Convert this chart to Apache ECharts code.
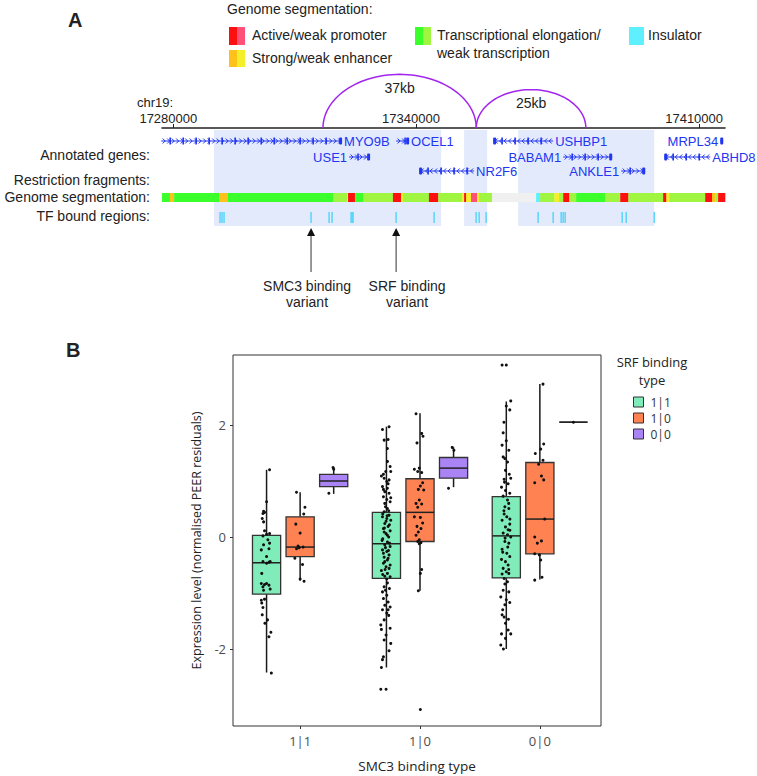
<!DOCTYPE html>
<html><head><meta charset="utf-8">
<script src="https://cdn.jsdelivr.net/npm/echarts@6/dist/echarts.min.js"></script>
<style>html,body{margin:0;padding:0;background:#fff}#c{width:757px;height:776px}</style>
</head><body><div id="c"></div>
<script>
// ================= PANEL A DATA =================
const coordTicks = [17280000, 17340000, 17410000];
const chromName = 'chr19:';
const geneNames  = ['MYO9B','OCEL1','USHBP1','MRPL34','USE1','BABAM1','ABHD8','NR2F6','ANKLE1'];
const geneStarts = [17277000,17335080,17359070,17415200,17323450,17376390,17401370,17340770,17390730];
const geneEnds   = [17321720,17338300,17373910,17415960,17328650,17388510,17412750,17354370,17396670];
const geneStrand = [1,1,-1,1,1,1,-1,-1,1];
const geneRow    = [0,0,0,0,1,1,1,2,2];
const geneLabelSide = ['right','right','right','left','left','left','right','right','left'];
const fragStarts = [17290060, 17351900, 17365260];
const fragEnds   = [17346210, 17357590, 17398900];
const segStarts = [17277200,17279200,17280200,17291300,17293500,17319500,17323000,17323200,17324900,17326900,17334300,17336300,17336800,17343200,17345500,17351400,17351900,17352400,17353600,17355100,17355600,17358800,17369700,17370700,17374200,17375400,17376400,17377900,17379600,17386800,17390500,17392500,17401100,17401900,17402600,17411500,17413200,17414000,17414700];
const segEnds   = [17279200,17280200,17291300,17293500,17319500,17323000,17323200,17324900,17326900,17334300,17336300,17336800,17343200,17345500,17351400,17351900,17352400,17353600,17355100,17355600,17358800,17369700,17370700,17374200,17375400,17376400,17377900,17379600,17386800,17390500,17392500,17401100,17401900,17402600,17411500,17413200,17414000,17414700,17416400];
const segStates = ['Tx','Enh','Tx','Enh','Tx','TxW','EnhW','Prom','Tx','TxW','Prom','EnhW','TxW','Prom','TxW','EnhW','Prom','EnhW','PromW','EnhW','TxW','None','Ins','TxW','EnhW','TxW','Prom','TxW','Tx','TxW','Prom','TxW','Prom','EnhW','TxW','Prom','Enh','TxW','Prom'];
const tfPositions = [17291550,17292040,17292540,17314050,17318510,17319250,17323950,17324200,17324440,17335080,17344480,17354870,17355610,17357340,17370200,17373910,17375890,17376390,17376880,17390980,17391970,17398900];
const loopStarts = [17317000, 17354900];
const loopEnds   = [17354900, 17382000];
const loopLabels = ['37kb', '25kb'];
const variantPos = [17314050, 17335080];
const variantLabels = ['SMC3 binding\nvariant', 'SRF binding\nvariant'];
const trackNames = ['Annotated genes:', 'Restriction fragments:', 'Genome segmentation:', 'TF bound regions:'];
const segLegendTitle = 'Genome segmentation:';
const segLegendLabels = ['Active/weak promoter', 'Strong/weak enhancer', 'Transcriptional elongation/\nweak transcription', 'Insulator'];

// ================= PANEL B DATA =================
const smc3Types = ['1|1', '1|0', '0|0'];
const srfTypes  = ['1|1', '1|0', '0|0'];
const legendTitleLines = ['SRF binding', 'type'];
// [min, Q1, median, Q3, max] per SMC3 type
const boxSrf11 = [[-2.42,-1.02,-0.46,0.03,1.20],[-2.33,-0.74,-0.12,0.44,1.97],[-2.00,-0.73,0.02,0.72,2.42]];
const boxSrf10 = [[-0.78,-0.35,-0.18,0.36,0.80],[-0.96,-0.08,0.44,1.04,2.21],[-0.76,-0.30,0.32,1.33,2.73]];
const boxSrf00 = [[0.77,0.90,1.00,1.12,1.24],[0.89,1.05,1.23,1.42,1.60],[2.05,2.05,2.05,2.05,2.05]];
// individual samples: [jitter, value] per SMC3 type
const ptsSrf11 = [
 [[0.025,1.20],[0,0.63],[-0.025,0.46],[-0.017,0.44],[-0.03,0.42],[-0.036,0.33],[-0.025,0.27],[-0.017,0.11],[0,0.05],[-0.03,0.02],[0.025,0.06],[0.011,-0.05],[0.025,-0.11],[-0.025,-0.14],[0.02,-0.21],[-0.044,-0.23],[0,-0.35],[-0.03,-0.44],[0.02,-0.45],[0.03,-0.44],[0,-0.47],[-0.04,-0.65],[-0.044,-0.83],[-0.017,-0.85],[0,-0.83],[-0.03,-0.89],[0.02,-0.86],[0.03,-0.93],[-0.025,-0.95],[-0.044,-1.13],[-0.017,-1.11],[-0.04,-1.18],[-0.03,-1.26],[-0.036,-1.39],[0.008,-1.48],[-0.014,-1.54],[0.036,-1.70],[0.02,-1.78],[0.04,-2.43]],
 [[-0.033,1.92],[0.022,1.97],[-0.019,1.73],[0.014,1.74],[0.008,1.58],[0.031,1.26],[-0.006,1.17],[0.036,1.17],[-0.042,1.09],[-0.019,1.05],[0.022,1.02],[0.003,0.99],[-0.033,0.90],[0.008,0.87],[-0.014,0.81],[0.022,0.78],[-0.025,0.72],[0.003,0.67],[0.031,0.63],[-0.008,0.54],[0.008,0.51],[-0.019,0.45],[0.022,0.39],[-0.033,0.36],[0.003,0.33],[0.036,0.30],[-0.014,0.24],[0.014,0.19],[-0.025,0.15],[0.031,0.11],[-0.003,0.06],[0.019,0.00],[-0.031,-0.03],[0.008,-0.09],[-0.014,-0.14],[0.031,-0.17],[-0.033,-0.23],[0.003,-0.26],[0.022,-0.32],[-0.019,-0.36],[0.008,-0.41],[-0.025,-0.47],[-0.003,-0.53],[0.022,-0.56],[-0.042,-0.60],[0.008,-0.65],[-0.014,-0.70],[0.031,-0.71],[0.008,-0.82],[-0.019,-0.89],[0.025,-0.92],[-0.033,-0.98],[0.003,-1.04],[-0.025,-1.10],[0.014,-1.16],[-0.014,-1.22],[0.031,-1.25],[-0.033,-1.30],[0.003,-1.36],[-0.047,-1.57],[-0.042,-1.65],[0.031,-1.63],[-0.019,-1.84],[0.036,-1.90],[0.022,-2.03],[-0.025,-2.14],[-0.033,-2.19],[-0.042,-2.33],[-0.047,-2.72],[-0.003,-2.72],
  [0.014,0.95],[-0.025,0.85],[0.036,0.70],[-0.014,0.60],[0.019,0.47],[-0.031,0.41],[-0.003,0.28],[0.025,0.22],[-0.019,0.09],[0.008,0.03],[-0.036,-0.06],[0.025,-0.11],[-0.008,-0.19],[-0.025,-0.29],[0.014,-0.38],[-0.014,-0.44],[0.031,-0.50],[-0.031,-0.67],[0.003,-0.75],[-0.008,-0.95],[0.019,-1.40],[-0.019,-1.48],[-0.003,-1.75],[0.014,-1.30],[-0.025,1.12],[0.008,1.35],[-0.011,-0.58],[0.006,0.38],[-0.017,0.16],[0.017,-0.24]],
 [[-0.035,3.07],[0,3.07],[0,2.34],[0.037,2.43],[0.029,2.27],[-0.026,1.86],[-0.035,1.64],[0.021,1.55],[-0.026,1.43],[-0.012,1.40],[0.01,1.34],[-0.007,1.19],[0.037,1.05],[-0.018,1.03],[0.015,0.95],[-0.04,0.89],[-0.007,0.83],[0.029,0.78],[-0.026,0.73],[0.01,0.66],[-0.012,0.54],[0.021,0.51],[-0.018,0.41],[0.004,0.36],[-0.035,0.30],[0.029,0.23],[-0.007,0.18],[0.015,0.13],[-0.026,0.07],[0.01,0.04],[0.037,0.00],[-0.012,-0.08],[0.021,-0.11],[-0.035,-0.22],[0.004,-0.29],[0.029,-0.35],[-0.04,-0.40],[-0.007,-0.44],[0.015,-0.50],[-0.026,-0.56],[0,-0.62],[0.021,-0.65],[-0.018,-0.74],[0.01,-0.80],[-0.012,-0.84],[-0.026,-0.95],[0.021,-0.98],[-0.046,-1.07],[0,-1.12],[-0.012,-1.21],[0.029,-1.17],[-0.035,-1.39],[-0.018,-1.43],[-0.007,-1.54],[0.015,-1.66],[0.037,-1.73],[-0.04,-1.73],[-0.007,-1.81],[-0.046,-1.93],[-0.024,-2.00],
  [0.02,0.60],[-0.02,0.47],[0.03,0.12],[-0.01,-0.02],[0.012,-0.18],[-0.03,-0.27],[0.02,-0.58],[-0.015,0.98],[0.025,1.12],[-0.03,-1.30],[0.018,-1.47],[0,1.72],[-0.02,2.05],[0.03,0.32],[-0.035,-0.66]]
];
const ptsSrf10 = [
 [[-0.03,0.80],[0.04,0.53],[0.03,0.41],[-0.036,0.23],[0,0.07],[-0.017,-0.16],[-0.03,-0.21],[-0.008,-0.19],[0.025,-0.18],[-0.044,-0.38],[0.02,-0.49],[0,-0.75],[0.033,-0.79]],
 [[-0.033,2.20],[0.014,1.85],[0.025,1.80],[-0.025,1.68],[-0.006,1.23],[-0.047,1.21],[-0.019,1.17],[0.014,1.15],[0.022,0.97],[0.003,0.91],[-0.014,0.85],[0.031,0.84],[-0.006,0.66],[-0.033,0.60],[0.014,0.59],[-0.019,0.53],[-0.047,0.36],[0.003,0.35],[0.022,0.25],[-0.025,0.19],[0.008,0.15],[-0.014,0.09],[-0.033,0.03],[-0.006,-0.05],[-0.019,-0.08],[0.008,-0.10],[-0.006,-0.12],[0.014,-0.58],[0.003,-0.65],[-0.014,-0.96],[0.003,-3.08]],
 [[0.026,2.73],[0.032,1.66],[-0.038,1.49],[0.007,1.57],[0.026,1.37],[-0.01,1.30],[0.013,1.09],[0.032,1.02],[-0.043,0.97],[0.04,0.32],[-0.043,0.00],[0.013,-0.07],[-0.021,-0.11],[-0.043,-0.30],[0.007,-0.41],[-0.004,-0.32],[0.018,-0.72],[-0.043,-0.77]]
];
const ptsSrf00 = [
 [[-0.005,1.24],[0,1.21],[-0.04,0.78]],
 [[-0.011,1.60],[0.003,1.55],[-0.042,0.87]],
 [[0,2.05]]
];

// ================= STYLE / LAYOUT =================
const FA = '"Liberation Sans", Arial, Helvetica, sans-serif';
const FB = '"Open Sans", "Noto Sans", sans-serif';
const GENE_COL = '#2236f2';
const segColors = {Tx:'#3bff2b', TxW:'#9ff53f', Prom:'#ff1010', PromW:'#ff5078', Enh:'#ffc21a', EnhW:'#f3f02a', Ins:'#5ff0ff', None:'#f0f0f0'};
const LAY = {gene:[13,29,43], shadeTop:2, shadeBot:98, segTop:65, segBot:74, tfTop:84, tfBot:95};
const variantLabelDx = [-4, 11];
const boxColors = ['#7fecb9', '#ff8252', '#aa84f5'];
const dodge = [-0.28, 0, 0.28];
const BOX_W = 0.235;

function T(text, x, y, o) {
  o = o || {};
  return {type:'text', x:x, y:y, silent:true, style:{legacy:false, text:text, fill:o.fill||'#222',
    fontSize:o.size||14, fontFamily:o.family||FA, fontWeight:o.weight||'normal',
    align:o.align||'left', verticalAlign:o.va||'middle', lineHeight:o.lh||undefined}};
}
function R(x, y, w, h, fill) { return {type:'rect', silent:true, shape:{x:x,y:y,width:w,height:h}, style:{fill:fill}}; }

const chart = echarts.init(document.getElementById('c'), null, {renderer:'svg', width:757, height:776});

// ---------- graphic (labels / legend of panel A) ----------
const gEls = [
  T('A', 68, 20, {size:20, weight:'bold'}),
  T('B', 66, 350, {size:20, weight:'bold'}),
  T(segLegendTitle, 227, 9),
  R(229,27,8,18,segColors.Prom), R(237,27,8,18,segColors.PromW),
  R(229,50,8,17,segColors.Enh), R(237,50,8,17,segColors.EnhW),
  R(415,27,8,18,segColors.Tx), R(423,27,8,18,segColors.TxW),
  R(629,27,15,18,segColors.Ins),
  T(segLegendLabels[0], 252, 35),
  T(segLegendLabels[1], 252, 58),
  T(segLegendLabels[2], 437, 26, {va:'top', lh:18}),
  T(segLegendLabels[3], 648, 35),
  T(chromName, 137, 102, {size:13}),
  T(trackNames[0], 150, 155, {align:'right'}),
  T(trackNames[1], 150, 180, {align:'right'}),
  T(trackNames[2], 150, 197, {align:'right'}),
  T(trackNames[3], 150, 216, {align:'right'}),
  T(legendTitleLines[0], 652, 362, {family:FB, size:13, align:'center'}),
  T(legendTitleLines[1], 652, 380, {family:FB, size:13, align:'center'})
];

function yPx(api, off) { return api.coord([0, off])[1]; }

const seriesA = [
  { // restriction fragments shading
    type:'custom', xAxisIndex:0, yAxisIndex:0, z:1, silent:true,
    data: fragStarts.map((s,i)=>[s, fragEnds[i]]),
    renderItem:(p, api)=>{
      const a = api.coord([api.value(0), LAY.shadeTop]), b = api.coord([api.value(1), LAY.shadeBot]);
      return {type:'rect', shape:{x:a[0], y:a[1], width:b[0]-a[0], height:b[1]-a[1]}, style:{fill:'#e2eafb'}};
    }
  },
  { // genes
    type:'custom', xAxisIndex:0, yAxisIndex:0, z:3, silent:true,
    data: geneStarts.map((s,i)=>[s, geneEnds[i], geneRow[i], geneStrand[i]]),
    renderItem:(p, api)=>{
      const i = p.dataIndex;
      const x1 = api.coord([api.value(0),0])[0], x2 = api.coord([api.value(1),0])[0];
      const y = yPx(api, LAY.gene[api.value(2)]);
      const st = api.value(3);
      const ch = [{type:'line', shape:{x1:x1,y1:y,x2:x2,y2:y}, style:{stroke:GENE_COL, lineWidth:1}}];
      for (let x = x1 + 3; x < x2 - 2; x += 4.5) {
        const pts = st > 0 ? [[x-1.5,y-2.5],[x+1,y],[x-1.5,y+2.5]] : [[x+1.5,y-2.5],[x-1,y],[x+1.5,y+2.5]];
        ch.push({type:'polyline', shape:{points:pts}, style:{stroke:GENE_COL, fill:null, lineWidth:1}});
      }
      for (let x = x1 + 9; x < x2 - 4; x += 13) ch.push({type:'rect', shape:{x:x-0.8,y:y-3.5,width:1.6,height:7}, style:{fill:GENE_COL}});
      const ex = st > 0 ? x2 - 3 : x1;
      ch.push({type:'rect', shape:{x:ex, y:y-3.5, width:3, height:7, r:1}, style:{fill:GENE_COL}});
      const side = geneLabelSide[i];
      ch.push({type:'text', x: side==='right' ? x2 + 2 : x1 - 2, y: y,
        style:{legacy:false, text:geneNames[i], fill:GENE_COL, fontSize:13, fontFamily:FA, align: side==='right'?'left':'right', verticalAlign:'middle'}});
      return {type:'group', children:ch};
    }
  },
  { // segmentation
    type:'custom', xAxisIndex:0, yAxisIndex:0, z:2, silent:true,
    data: segStarts.map((s,i)=>[s, segEnds[i]]),
    renderItem:(p, api)=>{
      const a = api.coord([api.value(0), LAY.segTop]), b = api.coord([api.value(1), LAY.segBot]);
      return {type:'rect', shape:{x:a[0], y:a[1], width:b[0]-a[0]+0.3, height:b[1]-a[1]}, style:{fill:segColors[segStates[p.dataIndex]]}};
    }
  },
  { // TF bound regions
    type:'custom', xAxisIndex:0, yAxisIndex:0, z:2, silent:true,
    data: tfPositions.map(v=>[v]),
    renderItem:(p, api)=>{
      const a = api.coord([api.value(0), LAY.tfTop]), b = api.coord([api.value(0), LAY.tfBot]);
      return {type:'rect', shape:{x:a[0]-0.7, y:a[1], width:1.4, height:b[1]-a[1]}, style:{fill:'#4fd3fb'}};
    }
  },
  { // chromatin loops
    type:'custom', xAxisIndex:0, yAxisIndex:0, z:4, silent:true,
    data: loopStarts.map((s,i)=>[s, loopEnds[i]]),
    renderItem:(p, api)=>{
      const a = api.coord([api.value(0), 0]), b = api.coord([api.value(1), 0]);
      const cx = (a[0]+b[0])/2, rx = (b[0]-a[0])/2, ry = rx*0.7, y0 = a[1];
      const pts = [];
      for (let k = 0; k <= 60; k++) { const t = Math.PI - Math.PI*k/60; pts.push([cx + rx*Math.cos(t), y0 - ry*Math.sin(t)]); }
      return {type:'group', children:[
        {type:'polyline', shape:{points:pts}, style:{stroke:'#a326ee', fill:null, lineWidth:1.5}},
        {type:'text', x:cx, y:y0 - ry + 13.5, style:{legacy:false, text:loopLabels[p.dataIndex], fill:'#222', fontSize:14, fontFamily:FA, align:'center', verticalAlign:'middle'}}
      ]};
    }
  },
  { // variant arrows
    type:'custom', xAxisIndex:0, yAxisIndex:0, z:4, silent:true,
    data: variantPos.map(v=>[v]),
    renderItem:(p, api)=>{
      const x = api.coord([api.value(0), 0])[0], y0 = api.coord([api.value(0), 0])[1];
      const tip = y0 + 100, base = y0 + 107, bot = y0 + 144;
      return {type:'group', children:[
        {type:'line', shape:{x1:x,y1:base,x2:x,y2:bot}, style:{stroke:'#333', lineWidth:1}},
        {type:'polygon', shape:{points:[[x,tip],[x-4,base+1],[x+4,base+1]]}, style:{fill:'#111'}},
        {type:'text', x:x + variantLabelDx[p.dataIndex], y:y0 + 150, style:{legacy:false, text:variantLabels[p.dataIndex], fill:'#222', fontSize:14, fontFamily:FA, align:'center', verticalAlign:'top', lineHeight:16}}
      ]};
    }
  }
];

// ---------- panel B ----------
const boxSets = [boxSrf11, boxSrf10, boxSrf00];
const ptSets = [ptsSrf11, ptsSrf10, ptsSrf00];
const seriesB = [];
srfTypes.forEach((name, s) => {
  seriesB.push({
    type:'custom', name:name, xAxisIndex:1, yAxisIndex:1, z:5, silent:true,
    itemStyle:{color:boxColors[s]},
    data: boxSets[s].map((st, g) => [g+1, st[0], st[1], st[2], st[3], st[4]]),
    encode:{x:0, y:[1,2,3,4,5]},
    renderItem:(p, api)=>{
      const gx = api.value(0) + dodge[s];
      const mn = api.value(1), q1 = api.value(2), md = api.value(3), q3 = api.value(4), mx = api.value(5);
      const tl = api.coord([gx - BOX_W/2, q3]), br = api.coord([gx + BOX_W/2, q1]);
      const c = api.coord([gx, md]);
      const yMin = api.coord([gx, mn])[1], yMax = api.coord([gx, mx])[1];
      return {type:'group', children:[
        {type:'line', shape:{x1:c[0],y1:yMax,x2:c[0],y2:tl[1]}, style:{stroke:'#1a1a1a', lineWidth:1.5}},
        {type:'line', shape:{x1:c[0],y1:br[1],x2:c[0],y2:yMin}, style:{stroke:'#1a1a1a', lineWidth:1.5}},
        {type:'rect', shape:{x:tl[0], y:tl[1], width:br[0]-tl[0], height:br[1]-tl[1]}, style:{fill:boxColors[s], stroke:'#333', lineWidth:1.3}},
        {type:'line', shape:{x1:tl[0],y1:c[1],x2:br[0],y2:c[1]}, style:{stroke:'#222', lineWidth:1.5}}
      ]};
    }
  });
});
srfTypes.forEach((name, s) => {
  const data = [];
  ptSets[s].forEach((arr, g) => arr.forEach(pt => data.push([g + 1 + dodge[s] + pt[0], pt[1]])));
  seriesB.push({type:'scatter', xAxisIndex:1, yAxisIndex:1, z:8, silent:true, symbol:'circle', symbolSize:3,
    itemStyle:{color:'#111', opacity:1}, data:data});
});

const option = {
  animation:false,
  backgroundColor:'#ffffff',
  grid:[
    {left:162, top:128, width:563, height:180, show:false, outerBoundsMode:'none', containLabel:false},
    {left:233, top:355, width:368, height:371, show:true, borderColor:'#333', borderWidth:1, backgroundColor:'rgba(0,0,0,0)', outerBoundsMode:'none', containLabel:false}
  ],
  xAxis:[
    {gridIndex:0, type:'value', position:'top', min:17277200, max:17416400,
      axisLine:{show:true, onZero:false, lineStyle:{color:'#222', width:1.6}},
      axisTick:{show:true, customValues:coordTicks, length:4, lineStyle:{color:'#222'}},
      axisLabel:{show:true, customValues:coordTicks, formatter:v=>String(v), margin:3, padding:[0,10,0,0], fontSize:13, fontFamily:FA, color:'#222'},
      splitLine:{show:false}},
    {gridIndex:1, type:'value', min:0.44, max:3.51,
      axisLine:{show:false, onZero:false},
      axisTick:{show:true, customValues:[1,2,3], length:3, lineStyle:{color:'#333'}},
      axisLabel:{show:true, customValues:[1,2,3], formatter:v=>smc3Types[Math.round(v)-1], margin:8, fontSize:13, fontFamily:FB, color:'#4d4d4d'},
      splitLine:{show:false},
      name:'SMC3 binding type', nameLocation:'middle', nameGap:33,
      nameTextStyle:{fontSize:13.5, fontFamily:FB, color:'#222'}}
  ],
  yAxis:[
    {gridIndex:0, type:'value', min:0, max:180, inverse:true, show:false},
    {gridIndex:1, type:'value', min:-3.375, max:3.25,
      axisLine:{show:false, onZero:false},
      axisTick:{show:true, customValues:[-2,0,2], length:3, lineStyle:{color:'#333'}},
      axisLabel:{show:true, customValues:[-2,0,2], margin:7, fontSize:13, fontFamily:FB, color:'#4d4d4d'},
      splitLine:{show:false},
      name:'Expression level (normalised PEER residuals)', nameLocation:'middle', nameGap:30,
      nameTextStyle:{fontSize:12.5, fontFamily:FB, color:'#222'}}
  ],
  legend:{show:true, data:srfTypes, left:633, top:396, padding:0, orient:'vertical', icon:'rect',
    itemWidth:10, itemHeight:10, itemGap:4, selectedMode:false,
    itemStyle:{borderColor:'#333', borderWidth:1},
    textStyle:{fontFamily:FB, fontSize:12, color:'#333', lineHeight:12, padding:[0,0,0,2]}},
  graphic:{elements:gEls},
  series: seriesA.concat(seriesB)
};
chart.setOption(option);
</script>
</body></html>
